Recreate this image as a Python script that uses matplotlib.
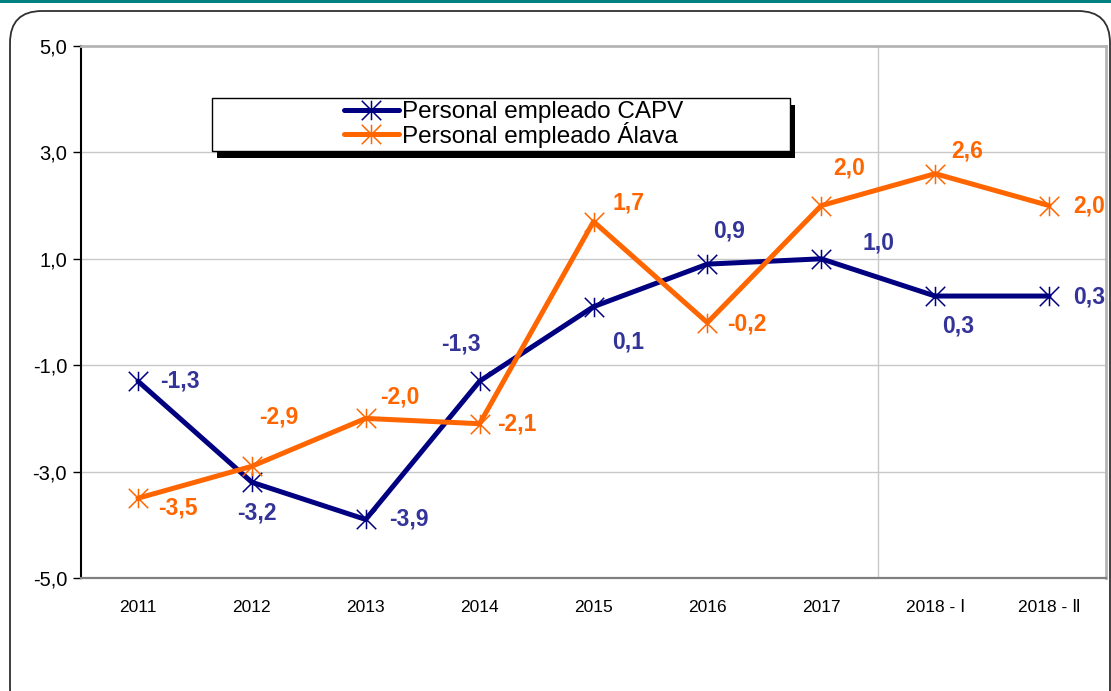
import matplotlib

matplotlib.use("Agg")
import matplotlib.pyplot as plt
from matplotlib.patches import FancyBboxPatch, Rectangle
from matplotlib.path import Path
from matplotlib.ticker import FuncFormatter

plt.rcParams["font.family"] = ["Liberation Sans", "DejaVu Sans"]

categories = ["2011", "2012", "2013", "2014", "2015", "2016", "2017",
              "2018 - \u2160", "2018 - \u2161"]
capv = [-1.3, -3.2, -3.9, -1.3, 0.1, 0.9, 1.0, 0.3, 0.3]
alava = [-3.5, -2.9, -2.0, -2.1, 1.7, -0.2, 2.0, 2.6, 2.0]
series_names = ["Personal empleado CAPV", "Personal empleado Álava"]
yticks = [-5, -3, -1, 1, 3, 5]

# label offsets in pixels (dx, dy) relative to each point
capv_off = [(42, 0), (5, -31), (43, 0), (-19, 37), (35, -35),
            (22, 33), (57, 16), (23, -30), (40, -1)]
alava_off = [(40, -10), (27, 49), (34, 21), (37, 0), (35, 19),
             (39, -1), (28, 38), (32, 23), (40, 0)]

navy = "#000080"
orange = "#FF6600"
navy_lbl = "#333399"

# six-armed star marker (vertical bar + x)
star = Path(
    [(0, -1), (0, 1), (-1, -1), (1, 1), (-1, 1), (1, -1)],
    [Path.MOVETO, Path.LINETO, Path.MOVETO, Path.LINETO, Path.MOVETO, Path.LINETO],
)

fig = plt.figure(figsize=(11.11, 6.91), dpi=100)

# teal strip on top and rounded outer frame
fig.patches.append(Rectangle((0, 1 - 3 / 691), 1, 3 / 691, transform=fig.transFigure,
                             fc="#008080", ec="none", zorder=0))
fig.patches.append(FancyBboxPatch((0.10, -0.3), 11.0, 7.10,
                                  boxstyle="round,pad=0,rounding_size=0.32",
                                  transform=fig.dpi_scale_trans,
                                  fc="none", ec="#303030", lw=1.3, zorder=0))

ax = fig.add_axes([81 / 1111, 1 - 578 / 691, 1025 / 1111, 532 / 691])
x = list(range(len(categories)))

line_kw = dict(lw=3.6, marker=star, markersize=14, markeredgewidth=1.1,
               solid_capstyle="round", zorder=4)
ax.plot(x, capv, color=navy, label=series_names[0], **line_kw)
ax.plot(x, alava, color=orange, label=series_names[1], **line_kw)

lbl_kw = dict(textcoords="offset pixels", ha="center", va="center",
              fontsize=16.5, fontweight="bold", zorder=5)
for xi, v, off in zip(x, capv, capv_off):
    ax.annotate(f"{v:.1f}".replace(".", ","), (xi, v), xytext=off,
                color=navy_lbl, **lbl_kw)
for xi, v, off in zip(x, alava, alava_off):
    ax.annotate(f"{v:.1f}".replace(".", ","), (xi, v), xytext=off,
                color=orange, **lbl_kw)

ax.set_xlim(-0.5, len(categories) - 0.5)
ax.set_ylim(-5, 5)
ax.set_yticks(yticks)
ax.yaxis.set_major_formatter(FuncFormatter(lambda v, p: f"{v:.1f}".replace(".", ",")))
ax.set_xticks(x)
ax.set_xticklabels(categories)
ax.tick_params(axis="x", length=0, pad=16, labelsize=12.5)
ax.tick_params(axis="y", length=6, width=1, pad=4, labelsize=14.5, direction="out")

# grid
for yv in yticks[1:-1]:
    ax.axhline(yv, color="#c8c8c8", lw=1, zorder=1)
ax.axvline(6.5, color="#c8c8c8", lw=1, zorder=1)

ax.spines["left"].set_color("black")
ax.spines["left"].set_linewidth(1.5)
ax.spines["bottom"].set_color("#808080")
ax.spines["bottom"].set_linewidth(1.6)
for s in ("top", "right"):
    ax.spines[s].set_color("#b4b4b4")
    ax.spines[s].set_linewidth(2)

# legend box with hard shadow
bx0, by0 = (212 - 81) / 1025, (578 - 151) / 532
bw, bh = (790 - 212) / 1025, 53 / 532
ax.add_patch(Rectangle((bx0 + 5 / 1025, by0 - 7 / 532), bw, bh, transform=ax.transAxes,
                       fc="black", ec="none", zorder=6))
ax.add_patch(Rectangle((bx0, by0), bw, bh, transform=ax.transAxes,
                       fc="white", ec="black", lw=1, zorder=7))
leg = ax.legend(loc="center", bbox_to_anchor=(bx0 + bw / 2 + 0.012, by0 + bh / 2),
                frameon=False, fontsize=17.5, handlelength=2.3, handletextpad=0.1,
                labelspacing=-0.05, borderpad=0)
leg.set_zorder(8)

fig.savefig("out.png", dpi=100)
